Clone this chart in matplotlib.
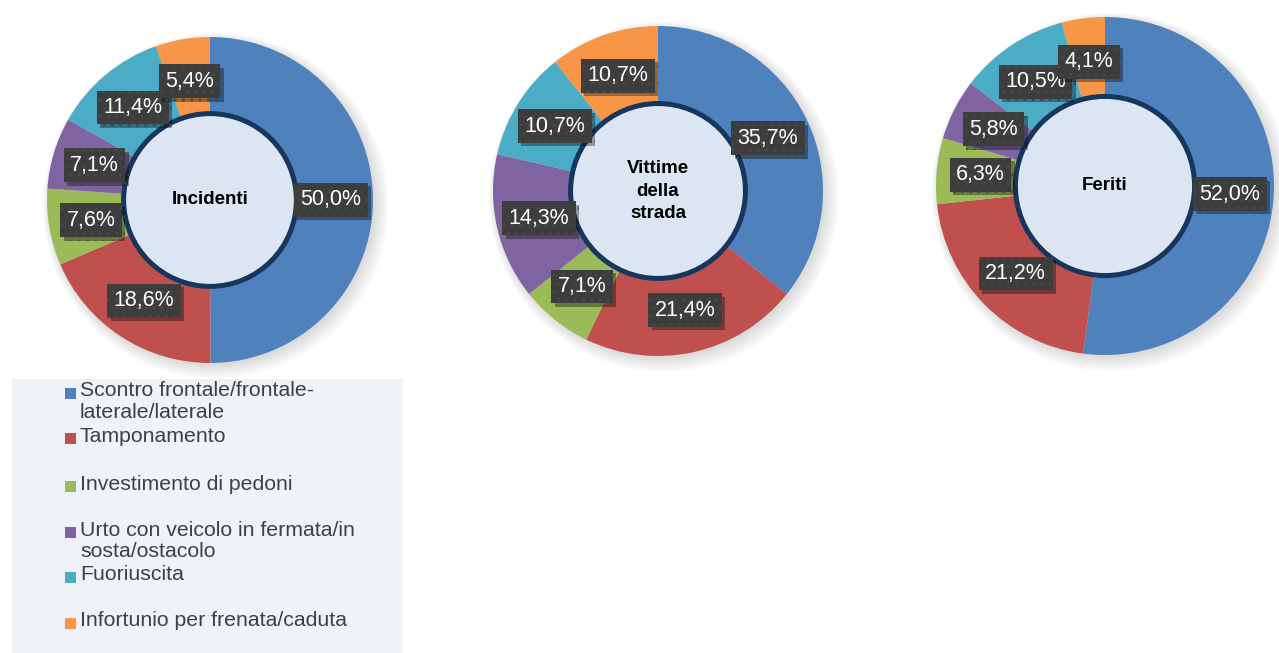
"""Donut charts: incidenti / vittime della strada / feriti by accident type."""

import numpy as np
import matplotlib
matplotlib.use("Agg")
import matplotlib.pyplot as plt
import matplotlib.patheffects as pe
from matplotlib.patches import Circle, Rectangle

plt.rcParams["font.family"] = ["Liberation Sans", "DejaVu Sans"]

# ── data ──────────────────────────────────────────────────────────────────────
categories = [
    "Scontro frontale/frontale-\nlaterale/laterale",
    "Tamponamento",
    "Investimento di pedoni",
    "Urto con veicolo in fermata/in\nsosta/ostacolo",
    "Fuoriuscita",
    "Infortunio per frenata/caduta",
]
colors = ["#4F81BD", "#C0504D", "#9BBB59", "#8064A2", "#4BACC6", "#F79646"]

chart_titles = ["Incidenti", "Vittime\ndella\nstrada", "Feriti"]
incidenti = [50.0, 18.6, 7.6, 7.1, 11.4, 5.4]
vittime   = [35.7, 21.4, 7.1, 14.3, 10.7, 10.7]
feriti    = [52.0, 21.2, 6.3, 5.8, 10.5, 4.1]
series = [incidenti, vittime, feriti]

# ── layout (pixels) ───────────────────────────────────────────────────────────
W, H, DPI = 1279, 653, 100
pie_centers = [(210, 200), (658, 191), (1105, 186)]
pie_radius  = [163, 165, 169]
HOLE = 0.53
LBL_R = 0.74
legend_y = [393, 438, 486, 532, 577, 623]

fig = plt.figure(figsize=(W / DPI, H / DPI), dpi=DPI)
fig.patch.set_facecolor("white")


def fmt(v):
    return f"{v:.1f}".replace(".", ",") + "%"


for (cx, cy), r, vals, title in zip(pie_centers, pie_radius, series, chart_titles):
    m = 1.12
    half = r * m
    ax = fig.add_axes([(cx - half) / W, (H - cy - half) / H, 2 * half / W, 2 * half / H])

    # soft shadow behind the ring
    for k in range(6):
        ax.add_patch(Circle((0.015 + k * 0.004, -0.015 - k * 0.004), 1.0 + k * 0.012,
                            facecolor="black", alpha=0.025, lw=0, zorder=0))

    ax.pie(vals, colors=colors, startangle=90, counterclock=False, radius=1,
           wedgeprops=dict(linewidth=0), normalize=True)
    ax.set_xlim(-m, m)
    ax.set_ylim(-m, m)
    ax.set_aspect("equal")
    ax.axis("off")

    ax.add_patch(Circle((0, 0), HOLE, facecolor="#DCE6F2", edgecolor="#17365D",
                        lw=3.6, zorder=5))
    ax.text(0, 0, title, ha="center", va="center", fontsize=13.5, fontweight="bold",
            linespacing=1.4, zorder=6)

    frac = np.array(vals) / np.sum(vals)
    mids = np.cumsum(frac) - frac / 2
    for v, f in zip(vals, mids):
        ang = np.deg2rad(90 - 360 * f)
        t = ax.text(LBL_R * np.cos(ang), LBL_R * np.sin(ang), fmt(v),
                    ha="center", va="center", fontsize=15.5, color="white", zorder=7,
                    bbox=dict(boxstyle="square,pad=0.3", facecolor="#3D3D3D",
                              edgecolor="#474747", lw=0, hatch=".."))
        t.get_bbox_patch().set_path_effects(
            [pe.SimplePatchShadow(offset=(2.5, -2.5), shadow_rgbFace="black", alpha=0.35),
             pe.Normal()])

# ── legend (drawn manually to match the boxed layout) ─────────────────────────
leg = Rectangle((12 / W, 0), (403 - 12) / W, (H - 382) / H, transform=fig.transFigure,
                facecolor="#EFF2F6", edgecolor="none", zorder=0)
leg.set_path_effects([pe.SimplePatchShadow(offset=(0, 2), shadow_rgbFace="black", alpha=0.06),
                      pe.Normal()])
fig.patches.append(leg)

for lab, col, y in zip(categories, colors, legend_y):
    fig.patches.append(Rectangle((65 / W, (H - y - 5.5) / H), 11 / W, 11 / H,
                                 transform=fig.transFigure, facecolor=col, lw=0))
    fig.text(80 / W, (H - y + 11.5) / H, lab, ha="left", va="top", fontsize=15.3,
             color="#404040", linespacing=1.15)

fig.savefig("out.png", dpi=DPI)
